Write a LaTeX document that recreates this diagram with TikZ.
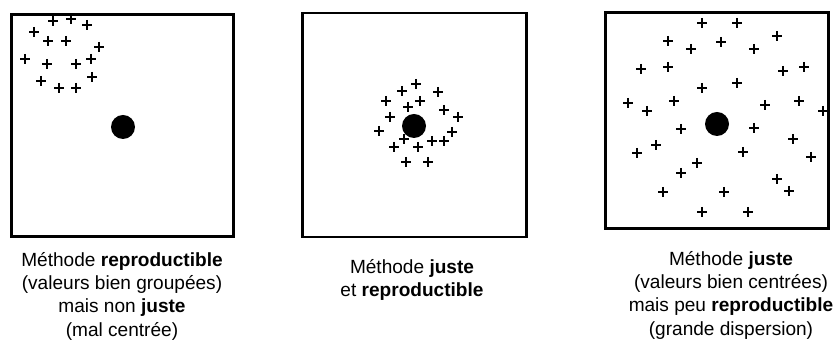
\documentclass[tikz,border=0pt]{standalone}
\usepackage{fontspec}
\setmainfont{Liberation Sans}
\usetikzlibrary{positioning}
\tikzset{
  cadre/.style={draw=black, line width=2.2pt, inner sep=0pt},
  cible/.style={circle, fill=black, minimum size=18pt, inner sep=0pt},
  mesure/.style={line width=1.25pt},
  legende/.style={anchor=north, align=center, inner sep=0pt,
    font=\fontsize{14.3}{17.5}\selectfont},
}

\begin{document}
\begin{tikzpicture}[x=0.75pt,y=-0.75pt]
  \useasboundingbox (0,0) rectangle (840,341);
  % the three targets
  \node[cadre, minimum width=166.5pt, minimum height=166.5pt] (cadreA) at (122.5,125.5) {};
  \node[cadre, minimum width=168pt, minimum height=168pt] (cadreB) at (414.5,125) {};
  \node[cadre, minimum width=167.2pt, minimum height=162pt] (cadreC) at (717,120.5) {};
  \node[cible] (cibleA) at (123,127) {};
  \node[cible] (cibleB) at (414,126) {};
  \node[cible] (cibleC) at (717,124) {};
  % grouped but off centre
  \foreach \x/\y in {53/21, 71/19, 87/25, 34/32, 48/41, 66/41, 99/47, 25/59,
      47/64, 76/64, 91/59, 92/77, 41/81, 59/88, 76/88}
    \draw[mesure] (\x,\y) +(-5,0) -- +(5,0) +(0,-5) -- +(0,5);
  % grouped and centred
  \foreach \x/\y in {416/84, 402/91, 438/92, 386/101, 420/101, 408/107, 444/110,
      458/117, 390/117, 379/131, 452/132, 404/139, 432/141, 444/141, 394/147,
      418/147, 406/162, 428/162}
    \draw[mesure] (\x,\y) +(-5,0) -- +(5,0) +(0,-5) -- +(0,5);
  % centred but scattered
  \foreach \x/\y in {702/23, 737/23, 777/36, 668/41, 721/42, 691/49, 754/49,
      641/69, 668/67, 783/71, 804/67, 737/83, 702/88, 628/103, 647/111, 674/101,
      765/105, 799/101, 823/111, 681/129, 754/128, 793/139, 656/145, 637/153,
      743/152, 811/157, 697/163, 681/173, 777/179, 789/191, 663/192, 724/192,
      702/212, 748/212}
    \draw[mesure] (\x,\y) +(-5,0) -- +(5,0) +(0,-5) -- +(0,5);
  % captions
  \node[legende] (textA) at (122,252) {Méthode \textbf{reproductible}\\
    (valeurs bien groupées)\\ mais non \textbf{juste}\\ (mal centrée)};
  \node[legende] (textB) at (412,259) {Méthode \textbf{juste}\\ et \textbf{reproductible}};
  \node[legende] (textC) at (731,251) {Méthode \textbf{juste}\\
    (valeurs bien centrées)\\ mais peu \textbf{reproductible}\\ (grande dispersion)};
\end{tikzpicture}
\end{document}
